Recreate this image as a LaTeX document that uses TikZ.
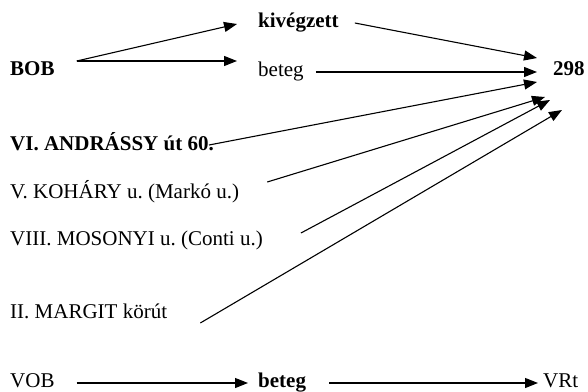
\documentclass[tikz,border=0pt]{standalone}
\usepackage{fontspec}
\setmainfont{Liberation Serif}
\usetikzlibrary{arrows.meta}

\tikzset{
	txt/.style={anchor=base west, inner sep=0pt, font=\fontsize{21}{25}\selectfont\frenchspacing},
	fett/.style={txt, font=\fontsize{21}{25}\selectfont\frenchspacing\bfseries},
	pfeil/.style={line width=1.1pt, -{Triangle[length=13pt,width=10pt]}}
}

\begin{document}
\begin{tikzpicture}[x=1pt,y=-1pt]
\useasboundingbox (0,0) rectangle (588,391);

%Texte
\node[fett] (bob) at (10,75) {BOB};
\node[fett] (kiv) at (258,27) {kivégzett};
\node[txt] (bet) at (258,76) {beteg};
\node[fett] (szam) at (553,75) {298};
\node[fett] (andr) at (10,150) {VI. ANDRÁSSY út 60.};
\node[txt] (kohary) at (10,198) {V. KOHÁRY u. (Markó u.)};
\node[txt] (mosonyi) at (10,245) {VIII. MOSONYI u. (Conti u.)};
\node[txt] (margit) at (10,318) {II. MARGIT körút};
\node[txt] (vob) at (10,387) {VOB};
\node[fett] (betb) at (258,387) {beteg};
\node[txt] (vrt) at (543,387) {VRt};

%Pfeilspitzen
\coordinate (t1) at ([shift={(-16,-17)}]szam.base west);
\coordinate (t2) at ([shift={(-16,-3)}]szam.base west);
\coordinate (t3) at ([shift={(-16,7)}]szam.base west);
\coordinate (t4) at ([shift={(-8,22)}]szam.base west);
\coordinate (t5) at ([shift={(-3,25)}]szam.base west);
\coordinate (t6) at ([shift={(9,35)}]szam.base west);

%Pfeile
\draw[pfeil] ([shift={(22,-14)}]bob.base east) -- ([shift={(-21,-3)}]kiv.base west);
\draw[pfeil] ([shift={(22,-14)}]bob.base east) -- ([shift={(-21,-15)}]bet.base west);
\draw[pfeil] ([shift={(22,-4)}]vob.base east) -- ([shift={(-10,-4)}]betb.base west);
\draw[pfeil] ([shift={(23,-4)}]betb.base east) -- ([shift={(-5,-4)}]vrt.base west);

\foreach \n/\dx/\dy/\t in
{
kiv/16/-4/t1,
bet/12/-4/t2,
andr/-5/-5/t3,
kohary/28/-16/t4,
mosonyi/38/-12/t5,
margit/33/5/t6%
}
{
	\draw[pfeil] ([shift={(\dx,\dy)}]\n.base east) -- (\t);
}

\end{tikzpicture}
\end{document}
